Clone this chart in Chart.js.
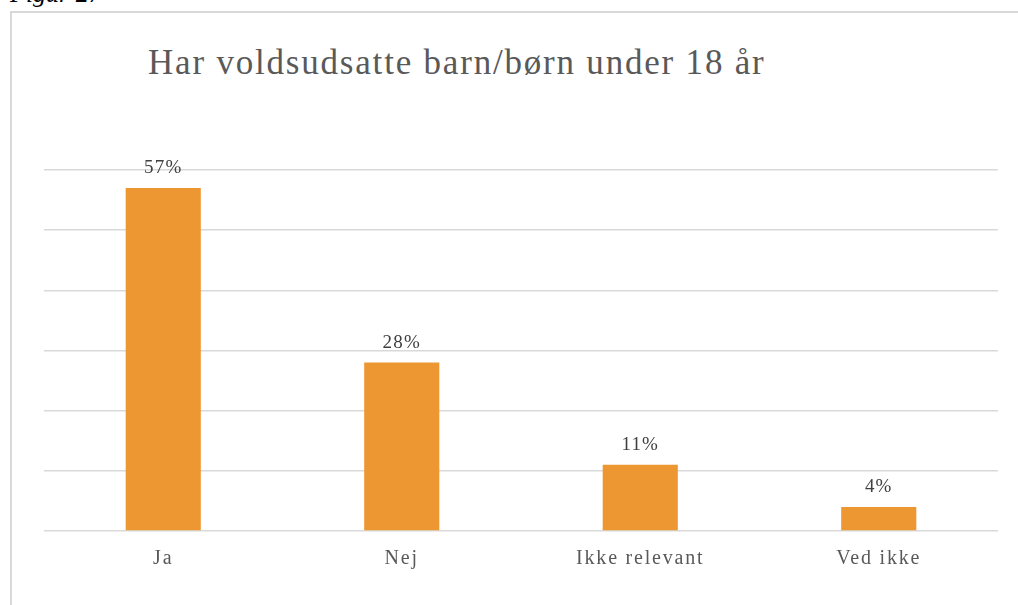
<!DOCTYPE html>
<html>
<head>
<meta charset="utf-8">
<script src="https://cdn.jsdelivr.net/npm/chart.js@4"></script>
<style>
  html, body { margin: 0; padding: 0; background: #fff; }
  body { width: 1018px; height: 605px; position: relative; overflow: hidden; }
  #figur { position: absolute; left: 10px; top: -21px; font-family: "Liberation Serif", serif; font-style: italic; font-size: 26px; color: #000; white-space: nowrap; }
  #frame { position: absolute; left: 10px; top: 11px; width: 1020px; height: 620px;
           border-left: 2px solid #d9d9d9; border-top: 2px solid #d9d9d9; }
  #title { position: absolute; left: 148px; top: 43px; font-family: "Liberation Serif", serif; font-size: 35px; color: #595959; letter-spacing: 1.8px; white-space: nowrap; }
  #wrap { position: absolute; left: 0; top: 0; width: 1018px; height: 605px; }
</style>
</head>
<body>
<div id="figur">Figur 27</div>
<div id="frame"></div>
<div id="title">Har voldsudsatte barn/børn under 18 år</div>
<div id="wrap"><canvas id="chart"></canvas></div>
<script>
// Data
const categories = ['Ja', 'Nej', 'Ikke relevant', 'Ved ikke'];
const values = [57, 28, 11, 4];
const yTicks = [0, 10, 20, 30, 40, 50, 60];

const serif = '"Liberation Serif", serif';

// lidt luft mellem bogstaverne, som i originalen
const spacing = {
    id: 'spacing',
    beforeDraw(chart) {
        chart.ctx.letterSpacing = '1.8px';
    }
};

// Etiketter over søjlerne
const barLabels = {
    id: 'barLabels',
    afterDatasetsDraw(chart) {
        const ctx = chart.ctx;
        const meta = chart.getDatasetMeta(0);
        ctx.save();
        ctx.letterSpacing = '1.2px';
        ctx.font = '19px ' + serif;
        ctx.fillStyle = '#404040';
        ctx.textAlign = 'center';
        ctx.textBaseline = 'alphabetic';
        meta.data.forEach((bar, i) => {
            ctx.fillText(values[i] + '%', bar.x, bar.y - 15);
        });
        ctx.restore();
    }
};

const ctx = document.getElementById('chart').getContext('2d');
new Chart(ctx, {
    type: 'bar',
    data: {
        labels: categories,
        datasets: [{
            data: values,
            backgroundColor: '#ED9733',
            categoryPercentage: 1,
            barPercentage: 0.315
        }]
    },
    options: {
        responsive: true,
        maintainAspectRatio: false,
        animation: false,
        layout: {
            padding: { left: 44, right: 20, top: 170, bottom: 18 }
        },
        plugins: {
            legend: { display: false },
            tooltip: { enabled: false }
        },
        scales: {
            y: {
                min: yTicks[0],
                max: yTicks[yTicks.length - 1],
                afterBuildTicks(axis) {
                    axis.ticks = yTicks.map(v => ({ value: v }));
                },
                ticks: { display: false },
                border: { display: false },
                grid: { color: '#d9d9d9', lineWidth: 1.5, drawTicks: false }
            },
            x: {
                border: { display: false },
                grid: { display: false, drawTicks: false },
                ticks: {
                    color: '#595959',
                    padding: 16,
                    font: { family: serif, size: 20 }
                }
            }
        }
    },
    plugins: [spacing, barLabels]
});
</script>
</body>
</html>
